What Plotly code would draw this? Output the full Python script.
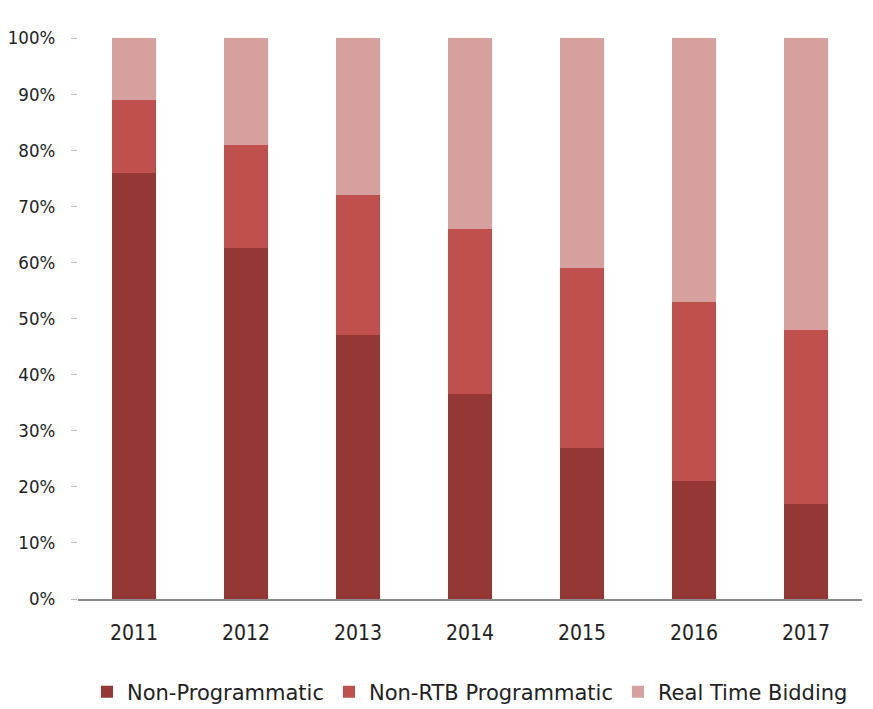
import plotly.graph_objects as go

years = ["2011", "2012", "2013", "2014", "2015", "2016", "2017"]
non_programmatic = [76, 62.5, 47, 36.5, 27, 21, 17]
non_rtb_programmatic = [13, 18.5, 25, 29.5, 32, 32, 31]
real_time_bidding = [11, 19, 28, 34, 41, 47, 52]

series = [
    ("Non-Programmatic", non_programmatic, "#953735"),
    ("Non-RTB Programmatic", non_rtb_programmatic, "#C0504D"),
    ("Real Time Bidding", real_time_bidding, "#D6A09F"),
]

fig = go.Figure()
for name, vals, color in series:
    fig.add_trace(go.Bar(
        x=years, y=[v / 100 for v in vals], name=name,
        marker=dict(color=color, line=dict(width=0)),
    ))

narrow = "Liberation Sans Narrow, DejaVu Sans Condensed, sans-serif"
xfont = dict(family=narrow, size=21, color="#222222")
yfont = dict(family=narrow, size=18.5, color="#222222")
fig.update_layout(
    barmode="stack",
    bargap=0.61,
    width=873, height=709,
    margin=dict(l=78, r=11, t=38, b=110, autoexpand=False),
    paper_bgcolor="white", plot_bgcolor="white",
    font=xfont,
    showlegend=True,
    legend=dict(orientation="h", x=0.5, xanchor="center", y=-0.166, yanchor="middle",
                font=dict(family="DejaVu Sans, sans-serif", size=21, color="#222222"),
                traceorder="normal", itemwidth=30),
    xaxis=dict(showline=True, linecolor="#8c8c8c", linewidth=1.5, ticks="",
               showgrid=False, tickfont=xfont, ticklabelstandoff=14),
    yaxis=dict(range=[0, 1], tickformat=".0%", dtick=0.1, showgrid=False,
               ticks="outside", ticklen=6, tickcolor="#bbbbbb", showline=False,
               zeroline=False, tickfont=yfont, ticklabelstandoff=12),
)
fig.write_html("out.html")
